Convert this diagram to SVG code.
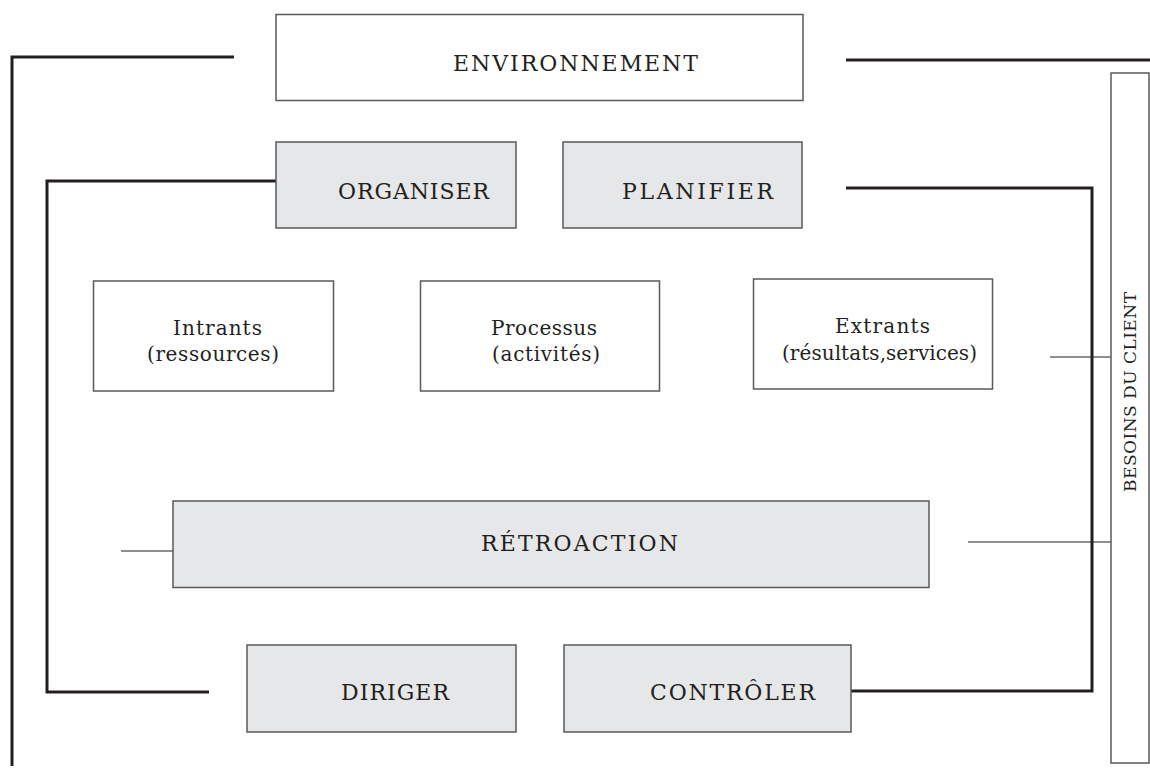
<svg xmlns="http://www.w3.org/2000/svg" width="1150" height="770" viewBox="0 0 1150 770">
<style>
.bw{fill:#ffffff;stroke:#58595b;stroke-width:1.5}
.bg{fill:#e6e7e8;stroke:#58595b;stroke-width:1.5}
.t{font-family:"DejaVu Serif","Liberation Serif",serif;font-size:20px;fill:#231f20}
.u{font-size:22px}
.c{fill:none;stroke:#231f20;stroke-width:3}
.thin{fill:none;stroke:#231f20;stroke-width:1.2}
</style>
<rect width="1150" height="770" fill="#ffffff"/>
<g id="connectors">
<polyline class="c" points="234,57 12,57 12,766"/>
<line class="c" x1="846" y1="60" x2="1150" y2="60"/>
<polyline class="c" points="276,181 47,181 47,692 209,692"/>
<polyline class="c" points="846,188 1092,188 1092,691 851,691"/>
<line class="thin" x1="1050" y1="357" x2="1111" y2="357"/>
<line class="thin" x1="121" y1="551" x2="173" y2="551"/>
<line class="thin" x1="968" y1="542" x2="1111" y2="542"/>
</g>
<g id="environnement">
<rect class="bw" x="276" y="14.5" width="527" height="86"/>
<text class="t u" x="453" y="71" textLength="245" lengthAdjust="spacing">ENVIRONNEMENT</text>
</g>
<g id="besoins">
<rect class="bw" x="1111" y="73" width="38" height="690"/>
<text class="t" style="font-size:17px" transform="translate(1136,492) rotate(-90)" x="0" y="0" textLength="200" lengthAdjust="spacing">BESOINS DU CLIENT</text>
</g>
<g id="organiser">
<rect class="bg" x="276" y="142" width="240" height="86"/>
<text class="t u" x="338" y="199" textLength="151" lengthAdjust="spacing">ORGANISER</text>
</g>
<g id="planifier">
<rect class="bg" x="563" y="142" width="239" height="86"/>
<text class="t u" x="622" y="199" textLength="151" lengthAdjust="spacing">PLANIFIER</text>
</g>
<g id="intrants">
<rect class="bw" x="93.5" y="281" width="240" height="110"/>
<text class="t" x="173" y="335" textLength="89" lengthAdjust="spacing">Intrants</text>
<text class="t" x="147" y="361" textLength="132" lengthAdjust="spacing">(ressources)</text>
</g>
<g id="processus">
<rect class="bw" x="420.5" y="281" width="239" height="110"/>
<text class="t" x="491" y="335" textLength="106" lengthAdjust="spacing">Processus</text>
<text class="t" x="492" y="361" textLength="108" lengthAdjust="spacing">(activités)</text>
</g>
<g id="extrants">
<rect class="bw" x="753.5" y="279" width="239" height="110"/>
<text class="t" x="835" y="333" textLength="95" lengthAdjust="spacing">Extrants</text>
<text class="t" x="782" y="360" textLength="195" lengthAdjust="spacing">(résultats,services)</text>
</g>
<g id="retroaction">
<rect class="bg" x="173" y="501" width="756" height="86.5"/>
<text class="t u" x="481" y="551" textLength="197" lengthAdjust="spacing">RÉTROACTION</text>
</g>
<g id="diriger">
<rect class="bg" x="247" y="645" width="269" height="87"/>
<text class="t u" x="341" y="700" textLength="108" lengthAdjust="spacing">DIRIGER</text>
</g>
<g id="controler">
<rect class="bg" x="564" y="645" width="287" height="87"/>
<text class="t u" x="650" y="700" textLength="165" lengthAdjust="spacing">CONTRÔLER</text>
</g>
</svg>
